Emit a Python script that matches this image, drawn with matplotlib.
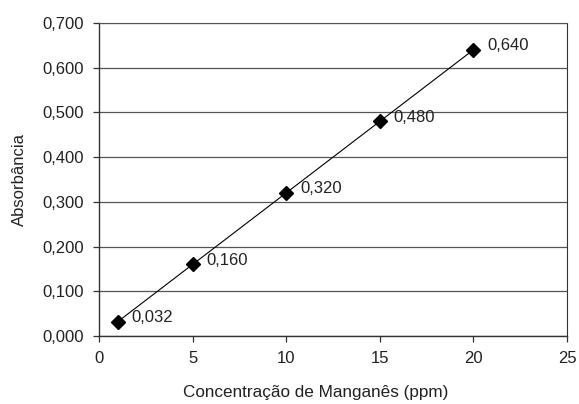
import matplotlib
matplotlib.use("Agg")
import matplotlib.pyplot as plt
from matplotlib.ticker import FuncFormatter

plt.rcParams['font.family'] = ['Liberation Sans', 'DejaVu Sans']

conc = [1, 5, 10, 15, 20]
absorb = [0.032, 0.160, 0.320, 0.480, 0.640]
point_labels = ["0,032", "0,160", "0,320", "0,480", "0,640"]

fig = plt.figure(figsize=(5.79, 4.04), dpi=100)
ax = fig.add_axes([99/579, 1-336/404, (567-99)/579, (336-23)/404])

ax.plot(conc, absorb, color='black', lw=0.8, zorder=3)
ax.plot(conc, absorb, linestyle='none', marker='D', color='black', ms=7, zorder=4)
for x, y, t in zip(conc, absorb, point_labels):
    ax.annotate(t, (x, y), xytext=(10, 3), textcoords='offset points',
                fontsize=12, va='center', ha='left', color='#222222')

ax.set_xlim(0, 25)
ax.set_ylim(0, 0.7)
ax.set_xticks([0, 5, 10, 15, 20, 25])
ax.set_yticks([0.0, 0.1, 0.2, 0.3, 0.4, 0.5, 0.6, 0.7])
ax.yaxis.set_major_formatter(FuncFormatter(lambda v, p: f"{v:.3f}".replace('.', ',')))
ax.grid(axis='y', color='#555555', lw=0.9)
ax.set_axisbelow(True)
for s in ['left', 'bottom']:
    ax.spines[s].set_color('#333333')
    ax.spines[s].set_linewidth(1.0)
ax.spines['top'].set_color('#555555')
ax.spines['right'].set_color('#333333')
ax.tick_params(direction='out', length=4, width=0.9, colors='#333333', labelsize=12, labelcolor='#222222')
ax.tick_params(axis='x', pad=7)
ax.tick_params(axis='y', pad=7)
ax.set_xlabel('Concentração de Manganês (ppm)', fontsize=12.3, labelpad=13, color='#222222')
ax.xaxis.set_label_coords(0.464, -0.158)
ax.set_ylabel('Absorbância', fontsize=12, labelpad=11, color='#222222')

fig.savefig('out.png', dpi=100)
